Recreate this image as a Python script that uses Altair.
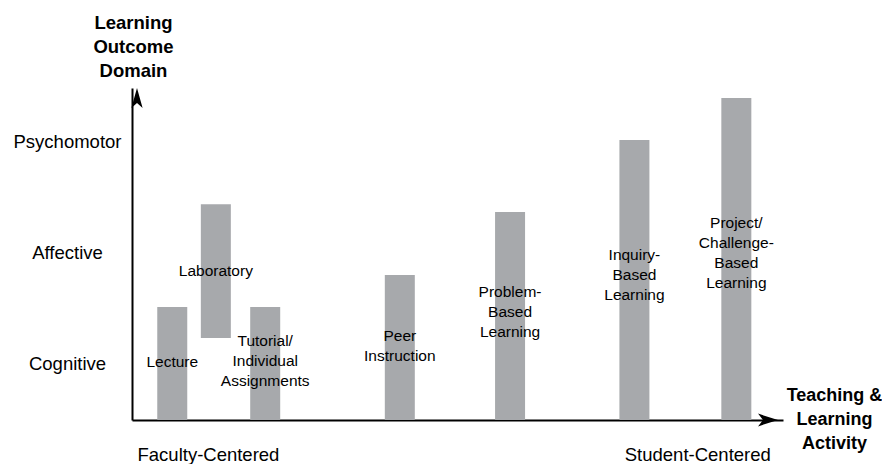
import altair as alt
import pandas as pd

# ---- data -------------------------------------------------------------
activities = [
    "Lecture",
    "Laboratory",
    "Tutorial/\nIndividual\nAssignments",
    "Peer\nInstruction",
    "Problem-\nBased\nLearning",
    "Inquiry-\nBased\nLearning",
    "Project/\nChallenge-\nBased\nLearning",
]
# position of each activity along the faculty -> student centred axis
activity_pos = [0.55, 1.23, 2.0, 4.1, 5.82, 7.76, 9.35]
# extent of each bar on the learning outcome domain axis
bar_low = [0.0, 0.74, 0.0, 0.0, 0.0, 0.0, 0.0]
bar_high = [1.02, 1.95, 1.02, 1.31, 1.88, 2.53, 2.91]
# level (domain units) of the first line of each activity's label
label_level = [0.52, 1.35, 0.71, 0.76, 1.16, 1.49, 1.78]

domain_names = ["Cognitive", "Affective", "Psychomotor"]
domain_levels = [0.5, 1.5, 2.5]

end_labels = ["Faculty-Centered", "Student-Centered"]
end_pos = [0.0, 9.88]

X_MAX = 10.0
Y_MAX = 3.0

FONT = "Liberation Sans"
BAR_GREY = "#A7A9AC"


def js_key(v):
    return str(int(v)) if float(v).is_integer() else str(v)


bars = pd.DataFrame({
    "activity": activities,
    "x": activity_pos,
    "low": bar_low,
    "high": bar_high,
    "label_y": label_level,
})

label_map = "{" + ", ".join(f"'{js_key(v)}': '{n}'" for v, n in zip(domain_levels, domain_names)) + "}"
end_map = "{" + ", ".join(f"'{js_key(v)}': '{n}'" for v, n in zip(end_pos, end_labels)) + "}"

x_scale = alt.Scale(domain=[0, X_MAX], nice=False, zero=False)
y_scale = alt.Scale(domain=[0, Y_MAX], nice=False, zero=False)

x_axis = alt.Axis(
    values=end_pos,
    labelExpr=f"{end_map}[toString(datum.value)]",
    labelAlign={"condition": {"test": "datum.value < 5", "value": "left"}, "value": "right"},
    labelBaseline="middle",
    labelPadding=34,
    labelFontSize=18.5,
    labelFont=FONT,
    labelColor="black",
    labelOverlap=False,
    labelBound=False,
    labelFlush=False,
    ticks=False,
    grid=False,
    domainColor="black",
    domainWidth=2,
    title=["Teaching &", "Learning", "Activity"],
    titleFont=FONT,
    titleFontSize=18,
    titleFontWeight="bold",
    titleColor="black",
    titleAngle=0,
    titleAlign="center",
    titleBaseline="middle",
    titleLineHeight=24,
    titleX=702,
    titleY=-25,
)

y_axis = alt.Axis(
    values=domain_levels,
    labelExpr=f"{label_map}[toString(datum.value)]",
    labelAlign="center",
    labelBaseline="middle",
    labelPadding=65,
    labelOffset=-1.5,
    labelFontSize=18.5,
    labelFont=FONT,
    labelColor="black",
    ticks=False,
    grid=False,
    domainColor="black",
    domainWidth=2,
    title=["Learning", "Outcome", "Domain"],
    titleFont=FONT,
    titleFontSize=18.5,
    titleFontWeight="bold",
    titleColor="black",
    titleAngle=0,
    titleAlign="center",
    titleBaseline="middle",
    titleLineHeight=24,
    titleX=1,
    titleY=-66,
)

base = alt.Chart(bars)

bar_layer = base.mark_bar(size=30, color=BAR_GREY).encode(
    x=alt.X("x:Q", scale=x_scale, axis=x_axis),
    y=alt.Y("low:Q", scale=y_scale, axis=y_axis),
    y2="high:Q",
)

text_layer = base.mark_text(
    font=FONT, fontSize=15.5, color="black", lineBreak="\n", lineHeight=20,
    align="center", baseline="middle",
).encode(
    x=alt.X("x:Q", scale=x_scale),
    y=alt.Y("label_y:Q", scale=y_scale),
    text="activity:N",
)

arrow_x = alt.Chart(pd.DataFrame({"x": [X_MAX], "y": [0.0]})).mark_point(
    shape="M0,0L-1,-0.32L-0.75,0L-1,0.32Z", size=1600, filled=True,
    color="black", opacity=1, strokeWidth=0,
).encode(x=alt.X("x:Q", scale=x_scale), y=alt.Y("y:Q", scale=y_scale))

arrow_y = alt.Chart(pd.DataFrame({"x": [0.0], "y": [Y_MAX]})).mark_point(
    shape="M0,0L-0.28,1L0,0.75L0.28,1Z", size=1600, filled=True,
    color="black", opacity=1, strokeWidth=0,
).encode(x=alt.X("x:Q", scale=x_scale), y=alt.Y("y:Q", scale=y_scale))

chart = alt.layer(bar_layer, text_layer, arrow_x, arrow_y).properties(
    width=651,
    height=332,
    background="white",
    autosize=alt.AutoSizeParams(type="none"),
    padding={"left": 124, "top": 80, "right": 99, "bottom": 48},
).configure_view(strokeWidth=0, stroke="transparent")

chart.save("out.html", embed_options={"renderer": "svg", "actions": False})
